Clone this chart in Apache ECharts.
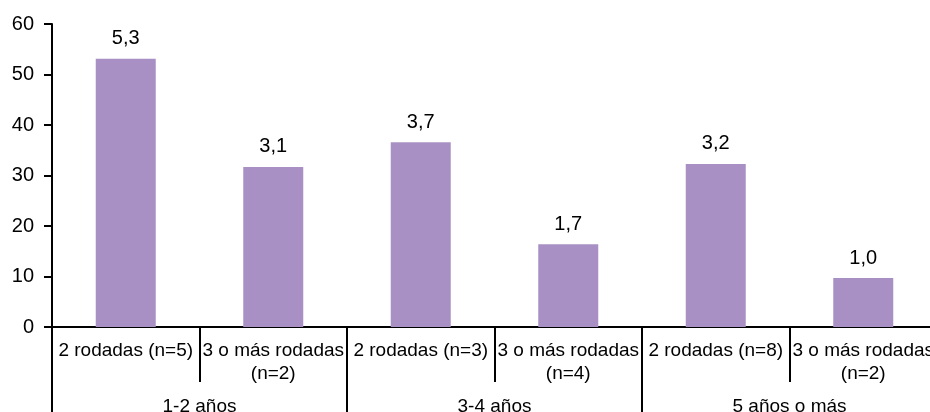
<!DOCTYPE html>
<html lang="es">
  <head>
    <meta charset="UTF-8" />
    <title>Rodadas por antigüedad</title>
    <script src="https://cdn.jsdelivr.net/npm/echarts@6/dist/echarts.min.js"></script>
    <style>
      html, body { margin: 0; padding: 0; background: #fff; }
      #main { width: 930px; height: 412px; }
    </style>
  </head>
  <body>
    <div id="main"></div>
    <script>
      // categorías internas y grupos
      var categorias = [
        "2 rodadas (n=5)", "3 o más rodadas\n(n=2)",
        "2 rodadas (n=3)", "3 o más rodadas\n(n=4)",
        "2 rodadas (n=8)", "3 o más rodadas\n(n=2)"
      ];
      var grupos = ["1-2 años", "3-4 años", "5 años o más"];
      var valores = [53.1, 31.7, 36.6, 16.4, 32.3, 9.7];
      // etiquetas impresas encima de cada barra
      var etiquetas = ["5,3", "3,1", "3,7", "1,7", "3,2", "1,0"];
      var ticksY = [0, 10, 20, 30, 40, 50, 60];

      var chart = echarts.init(document.getElementById("main"));
      var font = "Liberation Sans, Arial, sans-serif";

      var option = {
        animation: false,
        grid: { left: 52, top: 24, width: 885, height: 303, outerBoundsMode: "none", containLabel: false },
        xAxis: [
          {
            type: "category",
            data: categorias,
            position: "bottom",
            axisLine: { lineStyle: { color: "#000", width: 2 } },
            axisTick: { show: true, interval: 0, length: 55, lineStyle: { color: "#000", width: 2 } },
            axisLabel: {
              interval: 0, margin: 12, color: "#000",
              fontFamily: font, fontSize: 19, lineHeight: 23, align: "center"
            }
          },
          {
            type: "category",
            data: grupos,
            position: "bottom",
            axisLine: { show: false },
            axisTick: { show: true, interval: 0, length: 90, lineStyle: { color: "#000", width: 2 } },
            axisLabel: {
              interval: 0, margin: 70, color: "#000",
              fontFamily: font, fontSize: 19
            }
          }
        ],
        yAxis: {
          type: "value",
          min: ticksY[0],
          max: ticksY[ticksY.length - 1],
          interval: 10,
          axisLine: { show: true, lineStyle: { color: "#000", width: 2 } },
          axisTick: { show: true, length: 8, lineStyle: { color: "#000", width: 2 } },
          axisLabel: { margin: 18, color: "#000", fontFamily: font, fontSize: 20 },
          splitLine: { show: false }
        },
        series: [
          {
            type: "bar",
            xAxisIndex: 0,
            data: valores,
            barWidth: 60,
            itemStyle: { color: "#a990c4" },
            label: {
              show: true,
              position: "top",
              distance: 10,
              color: "#000",
              fontFamily: font,
              fontSize: 20,
              formatter: function (p) { return etiquetas[p.dataIndex]; }
            }
          }
        ]
      };
      chart.setOption(option);
    </script>
  </body>
</html>
